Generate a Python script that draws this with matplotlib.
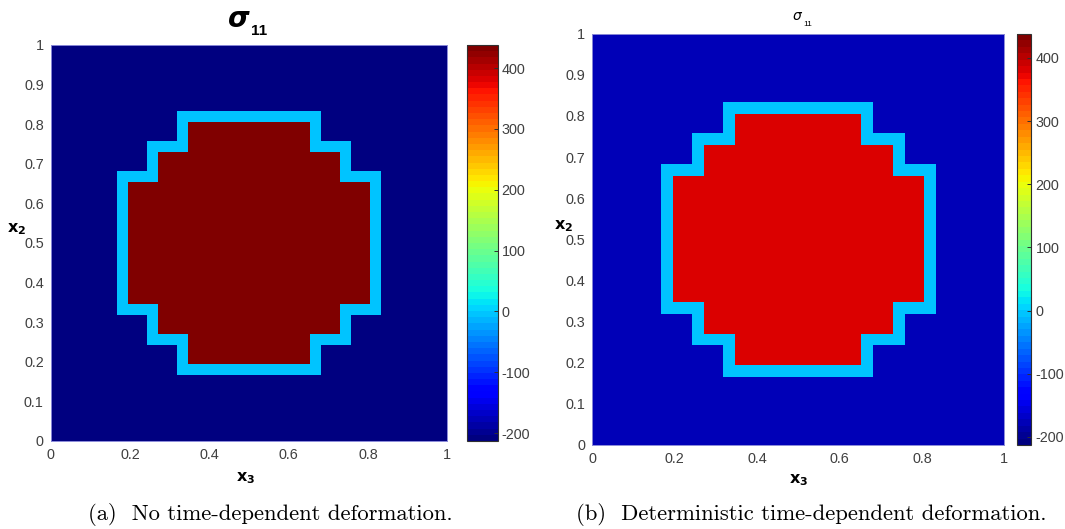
import numpy as np
import matplotlib.pyplot as plt

plt.rcParams['axes.unicode_minus'] = False

# cell edges of the mesh, same along x3 and x2
edges = [0, 0.166, 0.195, 0.242, 0.271, 0.318, 0.347, 0.653, 0.682, 0.729, 0.758, 0.805, 0.834, 1]

# 0 = matrix, 1 = interface layer, 2 = inclusion (rows go up in x2)
region = [
    "0000000000000",
    "0000011100000",
    "0000012100000",
    "0001112111000",
    "0001222221000",
    "0111222221110",
    "0122222222210",
    "0111222221110",
    "0001222221000",
    "0001112111000",
    "0000012100000",
    "0000011100000",
    "0000000000000",
]

# sigma_11 per region (matrix, interface, inclusion)
stress_a = [-213, 0, 438]
stress_b = [-180, 0, 385]

clim = (-213, 438)
cbar_ticks = [-200, -100, 0, 100, 200, 300, 400]
xticks = [0, 0.2, 0.4, 0.6, 0.8, 1]
yticks = [0, 0.1, 0.2, 0.3, 0.4, 0.5, 0.6, 0.7, 0.8, 0.9, 1]
captions = ["(a)  No time-dependent deformation.",
            "(b)  Deterministic time-dependent deformation."]

W, H = 1065, 529
fig = plt.figure(figsize=(W / 100, H / 100), dpi=100)
cmap = plt.get_cmap('jet', 64)
codes = np.array([[int(c) for c in row] for row in region])
tick_col = '#404040'


def box(x0, y0, x1, y1):
    # pixel box -> figure fraction rect
    return [x0 / W, 1 - y1 / H, (x1 - x0) / W, (y1 - y0) / H]


def px(x, y):
    return x / W, 1 - y / H


panels = [
    dict(vals=stress_a, ax=(50.7, 45, 447.3, 441), cax=(466.5, 45, 497.5, 441),
         x2=(17, 229), x3=(246, 478), cap=(270, 514), text=captions[0]),
    dict(vals=stress_b, ax=(592.3, 33.7, 1004.3, 445), cax=(1016.5, 34, 1031.3, 445),
         x2=(564, 226), x3=(799, 480), cap=(811, 514), text=captions[1]),
]

for p in panels:
    ax = fig.add_axes(box(*p['ax']))
    field = np.array(p['vals'])[codes]
    mesh = ax.pcolormesh(edges, edges, field, cmap=cmap, vmin=clim[0], vmax=clim[1])
    ax.set_xlim(0, 1)
    ax.set_ylim(0, 1)
    ax.set_xticks(xticks)
    ax.set_yticks(yticks)
    ax.set_xticklabels(['%g' % t for t in xticks])
    ax.set_yticklabels(['%g' % t for t in yticks])
    ax.tick_params(direction='in', length=0, pad=5, labelsize=10.4, labelcolor=tick_col)
    for lab in ax.get_xticklabels() + ax.get_yticklabels():
        lab.set_family('Liberation Sans')
    for s in ax.spines.values():
        s.set_color('#8a8ad8')
        s.set_linewidth(0.7)

    cax = fig.add_axes(box(*p['cax']))
    cb = fig.colorbar(mesh, cax=cax, ticks=cbar_ticks)
    cb.outline.set_edgecolor('#303030')
    cb.outline.set_linewidth(0.8)
    cax.tick_params(direction='in', length=3, width=0.7, color='#303030', pad=3,
                    labelsize=10.4, labelcolor=tick_col)
    for lab in cax.get_yticklabels():
        lab.set_family('Liberation Sans')

    fig.text(*px(*p['x2']), r'$\mathbf{x_2}$', fontsize=11.5, ha='center', va='center')
    fig.text(*px(*p['x3']), r'$\mathbf{x_3}$', fontsize=11.5, ha='center', va='center')
    fig.text(*px(*p['cap']), p['text'], family='cmr10', fontsize=16.3,
             ha='center', va='center')

# titles
fig.text(*px(239, 27), 'σ', fontsize=20, fontstyle='italic', fontweight='bold',
         ha='center', va='baseline')
fig.text(*px(251, 35), '11', fontsize=11, fontweight='bold', family='Liberation Sans',
         ha='left', va='baseline')
fig.text(*px(797, 20), 'σ', fontsize=10, fontstyle='italic', ha='center', va='baseline')
fig.text(*px(803, 26), '11', fontsize=6, family='Liberation Sans', ha='left', va='baseline')

fig.savefig('out.png', dpi=100)
